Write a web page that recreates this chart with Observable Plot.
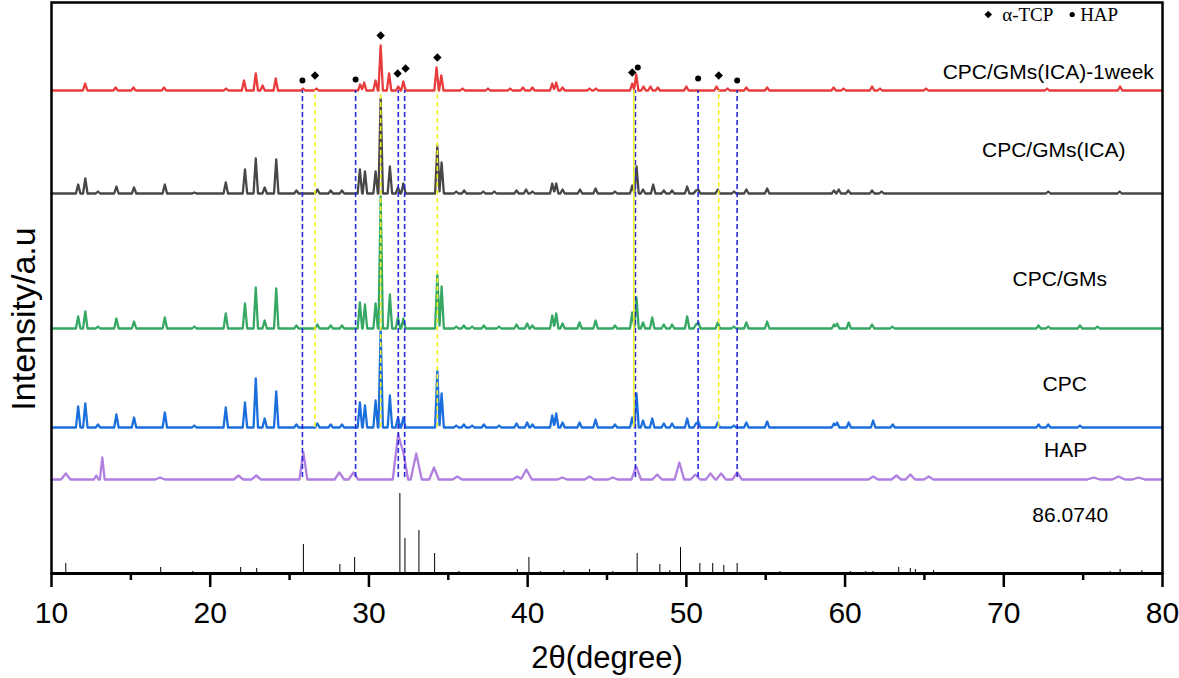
<!DOCTYPE html>
<html><head><meta charset="utf-8">
<script src="https://cdn.jsdelivr.net/npm/d3@7"></script>
<script src="https://cdn.jsdelivr.net/npm/@observablehq/plot@0.6"></script>
<style>body{margin:0;background:#fff}</style>
</head><body><div id="chart"></div>
<script>
// ---- tick values ----
const xTicksMajor = [10, 20, 30, 40, 50, 60, 70, 80];
const xTicksMinor = [15, 25, 35, 45, 55, 65, 75];

// ---- series names & vertical offsets (stacked patterns) ----
const seriesNames = ["CPC/GMs(ICA)-1week", "CPC/GMs(ICA)", "CPC/GMs", "CPC", "HAP", "86.0740"];
const seriesOffsets = [483, 380, 245, 146, 94, 0];
const seriesColors = ["#e83c3c", "#474747", "#36a864", "#1b6fdc", "#b07fe0", "#000000"];

// ---- peaks: [2θ, height, (half width)] ----
const peaks1week = [[12.12,7],[14.04,3],[15.16,3],[17.09,3],[21.0,2],[22.13,10],[22.87,17],[23.3,5],[24.13,12],[25.85,2],[26.7,2],[29.45,6],[29.7,8],[30.42,10],[30.74,45],[31.27,17],[31.85,4],[32.17,9],[34.26,23],[34.56,15],[35.9,2],[37.5,2],[38.9,2],[39.7,3],[40.3,3],[41.55,7],[41.8,8],[42.2,3],[43.9,2],[44.3,2],[46.59,7],[46.84,16],[47.3,4],[47.74,4],[48.2,3],[50.0,4],[51.9,4],[52.6,2],[53.78,3],[55.09,3],[59.28,3],[59.9,2],[61.7,4],[62.2,2],[65.1,2],[72.73,2],[77.33,4]];
const peaksICA = [[11.68,9],[12.13,15],[12.93,2],[14.09,7],[15.2,6],[17.14,9],[19.0,1],[20.98,11],[22.19,24],[22.87,35],[23.43,6],[24.16,34],[25.43,3],[26.75,4],[27.59,3],[28.3,3],[29.43,24],[29.75,22],[30.42,22],[30.74,95],[31.32,27],[31.83,6],[32.17,10],[34.31,48],[34.58,31],[35.5,2],[36.0,3],[37.2,2],[37.9,2],[39.3,3],[39.9,4],[40.3,2],[41.55,10],[41.8,10],[42.2,4],[43.3,4],[44.28,5],[45.5,2],[46.59,8],[46.86,27],[47.27,4],[47.91,9],[48.58,3],[49.1,3],[50.05,7],[50.6,3],[50.75,4],[51.98,4],[53.0,2],[53.78,4],[55.09,5],[59.3,3],[59.6,4],[60.2,3],[61.7,3],[62.3,2],[72.8,2],[77.3,2]];
const peaksGMs = [[11.68,12],[12.13,17],[12.93,2],[14.09,10],[15.2,7],[17.14,11],[19.0,2],[20.98,15],[22.19,25],[22.87,41],[23.43,8],[24.16,40],[25.43,3],[26.75,4],[27.59,3],[28.3,3],[29.43,26],[29.75,24],[30.42,25],[30.74,132],[31.32,34],[31.83,11],[32.17,10],[34.31,54],[34.58,42],[35.5,2],[35.98,3],[36.5,2],[37.24,3],[38.2,2],[39.3,4],[39.97,5],[40.3,3],[41.55,13],[41.8,15],[42.2,5],[43.27,6],[44.28,8],[45.5,3],[46.59,16],[46.86,31],[47.27,6],[47.85,11],[48.58,4],[49.1,4],[50.05,12],[50.6,4],[50.75,6],[51.98,6],[52.99,2],[53.78,6],[55.09,7],[59.3,4],[59.5,5],[60.23,6],[61.7,4],[62.98,2],[72.19,3],[72.8,2],[74.8,3],[75.9,2]];
const peaksCPC = [[11.68,21],[12.13,24],[12.93,3],[14.09,13],[15.2,10],[17.14,15],[19.0,2],[20.98,20],[22.19,25],[22.87,49],[23.43,9],[24.16,36],[25.43,3],[26.75,4],[27.59,3],[28.3,3],[29.43,25],[29.75,22],[30.42,27],[30.74,99],[31.32,32],[31.83,10],[32.17,10],[34.31,57],[34.58,34],[35.5,2],[35.98,3],[36.5,2],[37.24,3],[38.2,2],[39.3,4],[39.97,5],[40.3,3],[41.55,12],[41.8,14],[42.2,5],[43.27,5],[44.28,8],[45.5,3],[46.59,10],[46.86,34],[47.27,7],[47.85,9],[48.58,4],[49.1,4],[50.05,9],[50.6,4],[50.75,6],[51.98,5],[52.99,2],[53.78,5],[55.09,6],[59.3,4],[59.5,5],[60.23,5],[61.77,7],[63.0,3],[72.19,3],[72.8,3],[74.8,2]];
const peaksHAP = [[10.9,6,0.3],[12.82,4,0.15],[13.2,22,0.15],[16.84,2,0.3],[21.78,4,0.3],[22.9,4,0.3],[25.87,27,0.25],[28.14,7,0.3],[29.02,7,0.3],[31.85,46,0.35],[32.17,27,0.3],[32.98,26,0.35],[34.1,12,0.3],[35.57,3,0.3],[39.35,3,0.3],[39.92,10,0.35],[42.18,2,0.3],[43.9,3,0.3],[45.37,2,0.3],[46.84,13,0.3],[48.16,5,0.3],[49.56,17,0.3],[50.57,5,0.3],[51.52,6,0.3],[52.19,6,0.3],[53.2,7,0.3],[61.77,3,0.3],[63.23,4,0.3],[64.11,5,0.3],[65.27,3,0.3],[75.66,2,0.4],[77.23,3,0.4],[78.49,2,0.4]];
// reference card 86.0740 (stick pattern): [2θ, height]
const sticksRef = [[10.9,10],[16.88,6],[18.9,2],[21.92,6],[22.93,5],[25.87,29],[28.17,9],[29.1,16],[31.95,80],[32.27,35],[33.15,43],[34.14,20],[35.67,2],[39.35,4],[40.08,16],[40.8,2],[42.28,3],[43.9,4],[45.37,2],[46.9,20],[48.33,9],[48.96,3],[49.63,26],[50.85,10],[51.66,10],[52.36,8],[53.2,10],[55.9,2],[60.33,2],[61.3,2],[61.76,2],[63.38,6],[64.11,5],[64.43,4],[65.58,3],[72.6,1],[73.5,1],[75.1,1],[76.7,2],[77.33,4],[78.7,3],[79.6,1]];

// ---- phase markers ----
const tcpLines = [26.6, 30.74, 34.31, 52.04];      // α-TCP (yellow dashed)
const tcpSolidLines = [46.69];                      // α-TCP (yellow solid)
const hapLines = [25.81, 29.16, 31.85, 32.25, 46.79, 50.74, 53.2]; // HAP (blue dashed)
const tcpMarks = [[26.6,498],[30.74,538],[31.81,500],[32.31,505],[34.31,516],[46.59,501],[52.04,498]];
const hapMarks = [[25.81,493],[29.16,494],[46.94,506],[50.74,495],[53.2,493]];

// ---- label annotations ----
const seriesLabelX = [72.8, 73.15, 73.53, 73.84, 73.9, 74.19];
const seriesLabelY = [501, 423, 294, 189, 123, 58];

// ---- build pattern polylines from the peak lists ----
const HW = 0.14;
function trace(peaks, offset) {
  const ps = peaks.map(([p, h, w]) => ({p, h, w: w ?? HW}));
  const xs = new Set([10, 80]);
  for (const {p, w} of ps) { xs.add(+(p - w).toFixed(3)); xs.add(p); xs.add(+(p + w).toFixed(3)); }
  return [...xs].filter(x => x >= 10 && x <= 80).sort((a, b) => a - b).map(x => {
    let v = 0;
    for (const {p, h, w} of ps) { const d = Math.abs(x - p); if (d < w) v = Math.max(v, h * (1 - d / w)); }
    return {x, y: offset + v};
  });
}
const allPeaks = [peaks1week, peaksICA, peaksGMs, peaksCPC, peaksHAP];
const lineMarks = allPeaks.map((pk, i) =>
  Plot.line(trace(pk, seriesOffsets[i]), {x: "x", y: "y", stroke: seriesColors[i], strokeWidth: 2.3}));

const labels = seriesNames.map((name, i) => ({name, x: seriesLabelX[i], y: seriesLabelY[i]}));

const chart = Plot.plot({
  width: 1179, height: 678,
  marginLeft: 51, marginRight: 17, marginTop: 2, marginBottom: 105,
  x: {domain: [10, 80]},
  y: {domain: [0, 571], axis: null},
  style: {fontFamily: "'Liberation Sans', Arial, sans-serif", background: "#fff", color: "#000"},
  marks: [
    Plot.ruleX(sticksRef, {x: d => d[0], y1: 0, y2: d => d[1], stroke: "#000", strokeWidth: 1}),
    ...lineMarks,
    Plot.ruleX(hapLines, {x: d => d, y1: 96, y2: 483, stroke: "#2a2ad8", strokeWidth: 1.6, strokeDasharray: "5,3"}),
    Plot.ruleX(tcpLines, {x: d => d, y1: 146, y2: 483, stroke: "#f2ee2a", strokeWidth: 1.6, strokeDasharray: "5,3"}),
    Plot.ruleX(tcpSolidLines, {x: d => d, y1: 146, y2: 483, stroke: "#f2ee2a", strokeWidth: 1.6}),
    Plot.dot(tcpMarks, {x: d => d[0], y: d => d[1], symbol: "diamond2", r: 3.8, fill: "#000", stroke: "none"}),
    Plot.dot(hapMarks, {x: d => d[0], y: d => d[1], symbol: "circle", r: 3, fill: "#000", stroke: "none"}),
    Plot.text(labels, {x: "x", y: "y", text: "name", fontSize: 21, fill: "#000"}),
    // legend (top right)
    Plot.dot([{x: 69.02, y: 559}], {x: "x", y: "y", symbol: "diamond2", r: 3.4, fill: "#000", stroke: "none"}),
    Plot.dot([{x: 74.31, y: 559}], {x: "x", y: "y", symbol: "circle", r: 2.6, fill: "#000", stroke: "none"}),
    Plot.text([{x: 69.9, y: 559, t: "α-TCP"}, {x: 74.81, y: 559, t: "HAP"}], {x: "x", y: "y", text: "t", textAnchor: "start", fontSize: 19, fontFamily: "'Liberation Serif', 'Times New Roman', serif", fill: "#000"}),
    // frame and axes
    Plot.frame({stroke: "#000", strokeWidth: 2.5}),
    Plot.ruleY([0], {stroke: "#000", strokeWidth: 3}),
    Plot.axisX({ticks: xTicksMajor, tickSize: 14, tickPadding: 14, fontSize: 30, strokeWidth: 2.5, label: null, tickFormat: d => d}),
    Plot.axisX({ticks: xTicksMinor, tickSize: 7, strokeWidth: 2.5, label: null, tickFormat: () => ""}),
    Plot.text(["2θ(degree)"], {frameAnchor: "bottom", dy: 85, lineAnchor: "middle", fontSize: 31, fill: "#000"}),
    Plot.text(["Intensity/a.u"], {frameAnchor: "left", dx: -27, dy: 31, rotate: -90, textAnchor: "middle", lineAnchor: "middle", fontSize: 34, fill: "#000"})
  ]
});
document.getElementById("chart").appendChild(chart);
</script>
</body></html>
